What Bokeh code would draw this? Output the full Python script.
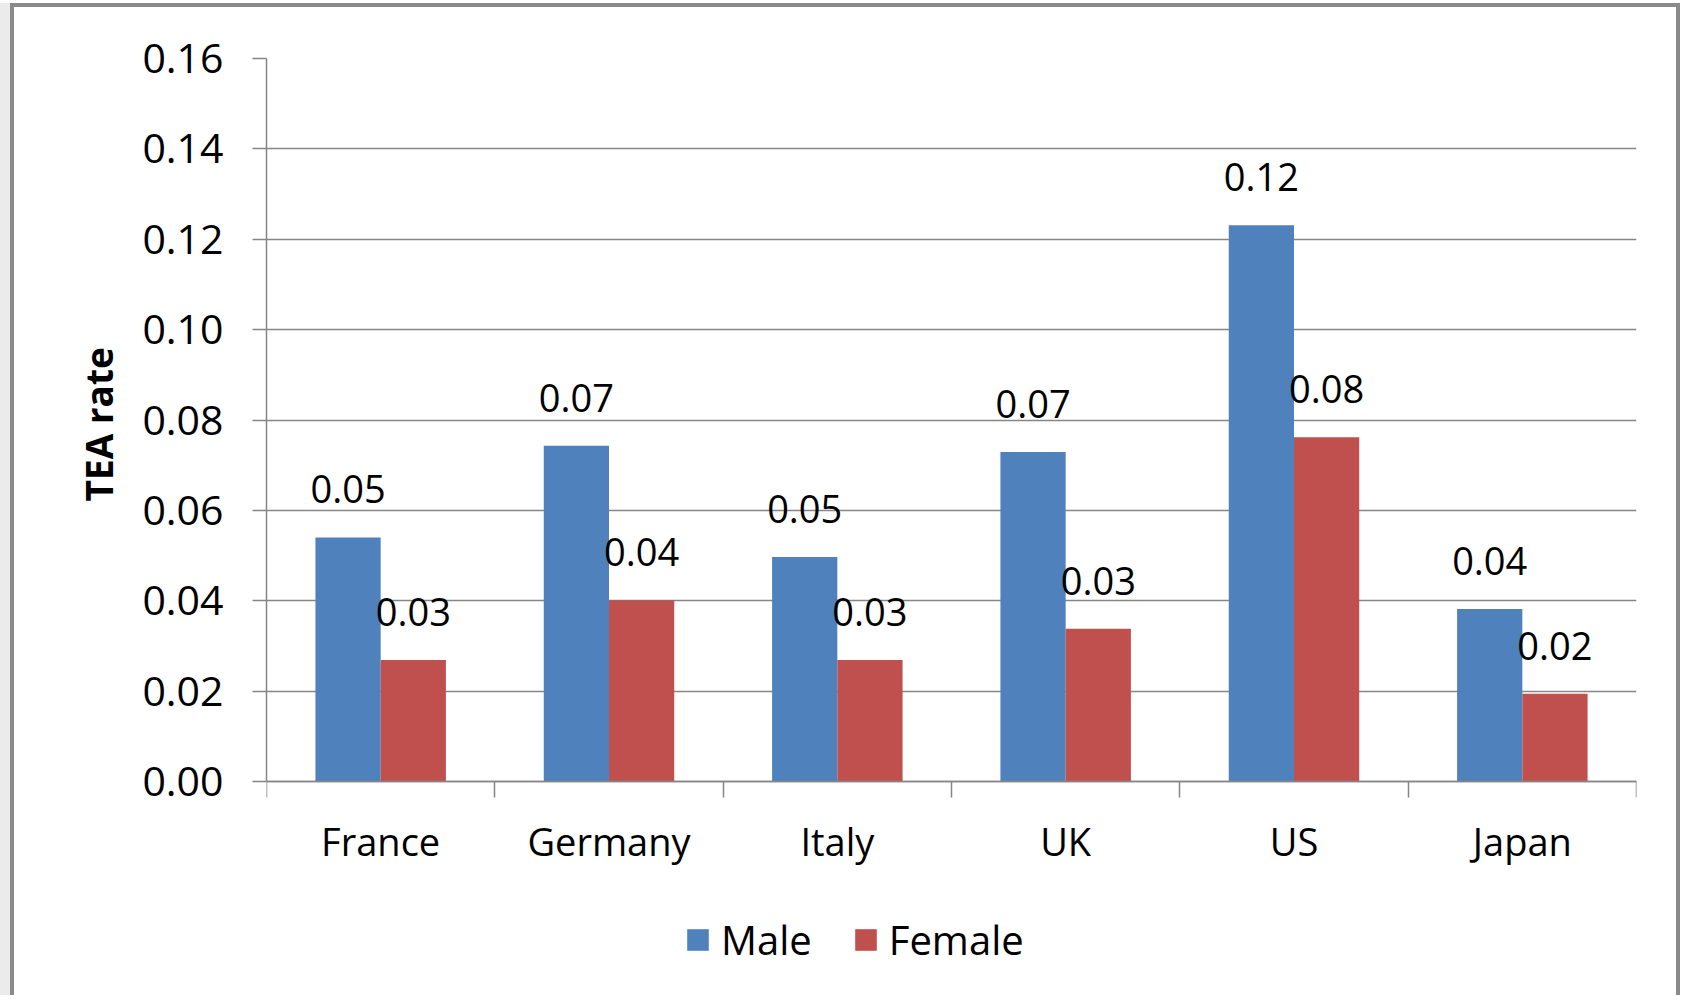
from bokeh.plotting import figure
from bokeh.models import Range1d, FixedTicker, Legend, LegendItem, ColumnDataSource, Title
from bokeh.core.properties import value
from bokeh.embed import file_html
from bokeh.resources import INLINE

# ---- data ----
countries = ["France", "Germany", "Italy", "UK", "US", "Japan"]
male = [0.054, 0.0743, 0.0497, 0.0729, 0.1231, 0.0382]
female = [0.0269, 0.0401, 0.0269, 0.0338, 0.0762, 0.0194]
y_ticks = [0.00, 0.02, 0.04, 0.06, 0.08, 0.10, 0.12, 0.14, 0.16]
y_label = "TEA rate"
series_names = ["Male", "Female"]

BLUE = "#4F81BD"
RED = "#C0504D"
GRID = "#868686"
FONT = "Open Sans"

# ---- layout (pixels) ----
W, H = 1670, 992
B_LEFT, B_RIGHT, B_TOP, B_BOTTOM = 252, 48, 51, 10
ZERO_PX = 774          # canvas y where value 0 sits
frame_top = B_TOP
frame_bottom = H - B_BOTTOM
ymax = y_ticks[-1]
ppu = (ZERO_PX - frame_top) / ymax
ymin = -(frame_bottom - ZERO_PX) / ppu

n = len(countries)
centers = [i + 0.5 for i in range(n)]
bw = 1 / 3.5
male_x = [c - bw / 2 for c in centers]
female_x = [c + bw / 2 for c in centers]

p = figure(width=W, height=H, output_backend="svg", toolbar_location=None,
           x_range=Range1d(0, n), y_range=Range1d(ymin, ymax),
           min_border_left=B_LEFT, min_border_right=B_RIGHT, min_border_top=B_TOP,
           min_border_bottom=B_BOTTOM)
p.styles = {"border-left": "4px solid #8a8a8a", "border-top": "4px solid #8a8a8a",
            "border-right": "4px solid #8a8a8a", "margin-left": "10px",
            "margin-top": "3px", "box-shadow": "-10px 0 0 0 #ebebeb"}
p.outline_line_color = None
p.background_fill_color = "white"
p.border_fill_color = "white"

src_m = ColumnDataSource(dict(x=male_x, top=male, lab=[f"{v:.2f}" for v in male]))
src_f = ColumnDataSource(dict(x=female_x, top=female, lab=[f"{v:.2f}" for v in female]))

rm = p.vbar(x="x", top="top", bottom=0, width=bw, source=src_m, fill_color=BLUE,
            line_color=None)
rf = p.vbar(x="x", top="top", bottom=0, width=bw, source=src_f, fill_color=RED,
            line_color=None)

for src in (src_m, src_f):
    p.text(x="x", y="top", text="lab", source=src, text_align="center",
           text_baseline="alphabetic", y_offset=-48, text_font=value(FONT),
           text_font_size="38px", text_color="#000000")

# grid
p.xgrid.grid_line_color = None
p.ygrid.ticker = FixedTicker(ticks=y_ticks)
p.ygrid.grid_line_color = GRID
p.ygrid.grid_line_width = 1.5

# y axis
ya = p.yaxis[0]
ya.ticker = FixedTicker(ticks=y_ticks)
ya.bounds = (y_ticks[0], y_ticks[-1])
ya.major_label_overrides = {t: f"{t:.2f}" for t in y_ticks}
ya.major_tick_out = 14
ya.major_tick_in = 0
ya.minor_tick_out = 0
ya.minor_tick_line_color = None
ya.major_tick_line_color = GRID
ya.major_tick_line_width = 1.5
ya.axis_line_color = GRID
ya.axis_line_width = 1.5
ya.major_label_text_font = FONT
ya.major_label_text_font_size = "41px"
ya.major_label_text_color = "#000000"
ya.major_label_standoff = 29

# y axis title, placed along the 0..0.16 span
ytitle = Title(text=y_label, align="left", offset=488, standoff=32,
               text_font=FONT, text_font_size="37px", text_font_style="bold",
               text_color="#000000")
p.add_layout(ytitle, "left")

# x axis, drawn at value 0
xa = p.xaxis[0]
xa.fixed_location = 0
xa.ticker = FixedTicker(ticks=centers, minor_ticks=list(range(n + 1)))
xa.major_label_overrides = {c: name for c, name in zip(centers, countries)}
xa.major_tick_line_color = None
xa.major_tick_out = 0
xa.major_tick_in = 0
xa.minor_tick_out = 16
xa.minor_tick_in = 0
xa.minor_tick_line_color = GRID
xa.minor_tick_line_width = 1.5
xa.axis_line_color = GRID
xa.axis_line_width = 1.5
xa.major_label_text_font = FONT
xa.major_label_text_font_size = "38px"
xa.major_label_text_color = "#000000"
xa.major_label_standoff = 17

legend = Legend(items=[LegendItem(label=series_names[0], renderers=[rm]),
                       LegendItem(label=series_names[1], renderers=[rf])],
                orientation="horizontal", location=(418, 22))
legend.label_text_font = FONT
legend.label_text_font_size = "40px"
legend.label_text_color = "#000000"
legend.glyph_width = 27
legend.glyph_height = 27
legend.label_standoff = 10
legend.spacing = 40
legend.border_line_color = None
legend.background_fill_alpha = 0
legend.margin = 0
legend.padding = 0
p.add_layout(legend, "center")

open("out.html", "w").write(file_html(p, INLINE))
